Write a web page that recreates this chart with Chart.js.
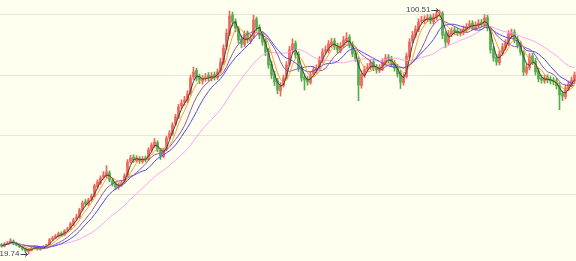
<!DOCTYPE html>
<html>
<head>
<meta charset="utf-8">
<script src="https://cdn.jsdelivr.net/npm/chart.js@4.4.1/dist/chart.umd.min.js"></script>
<style>
  html, body { margin: 0; padding: 0; background: #fffff0; }
  #wrap { width: 576px; height: 261px; position: relative; }
</style>
</head>
<body>
<div id="wrap"><canvas id="kChart"></canvas></div>
<script>
// daily K-line, values
const opens = [
  22.8, 22.4, 23.0, 23.3, 24.0, 23.2, 22.6, 22.0, 21.5, 20.6, 21.0, 21.8, 22.2, 21.3, 21.8,
  22.0, 22.8, 24.6, 25.1, 25.6, 26.6, 26.1, 27.6, 28.2, 29.5, 31.4, 32.0, 34.5, 37.0, 36.2, 37.8, 39.0, 42.0, 43.3,
  45.2, 45.5, 46.6, 44.0, 43.0, 41.8, 42.8, 43.4, 45.8, 50.4, 51.8, 50.6, 51.4, 50.3, 51.6,
  51.0, 54.0, 55.5, 56.6, 54.0, 52.0, 54.5, 58.3, 59.6, 62.8, 65.0, 68.8, 70.0, 70.5,
  72.9, 78.4, 80.5, 78.4, 77.0, 77.8, 78.9, 77.8, 79.1, 78.1, 80.2, 83.1, 88.3, 92.6,
  98.9, 96.8, 94.2, 90.9, 89.0, 92.9, 90.3, 91.5, 97.5, 94.8, 92.5, 90.1, 86.9, 82.6, 79.3, 77.0,
  73.8, 75.6, 78.2, 82.5, 87.0, 89.5, 85.9, 81.0, 78.4, 77.6, 76.5, 79.3, 80.4,
  81.6, 83.8, 86.9, 87.0, 89.0, 90.3, 88.6, 87.0, 88.8, 90.3, 91.5, 89.2, 86.3,
  84.2, 75.5, 79.0, 80.9, 81.4, 83.3, 81.6, 80.5, 81.0, 83.0, 84.9, 84.3, 82.9, 81.6, 79.6,
  76.4, 78.5, 85.0, 90.2, 92.0, 94.0, 96.8, 97.0, 97.6, 98.2, 96.6, 98.0, 99.4,
  99.5, 92.5, 89.6, 92.4, 93.9, 93.5, 92.6, 93.0, 94.0, 95.1, 96.2, 94.6, 95.2, 96.5, 95.7,
  98.0, 94.3, 87.6, 84.9, 83.0, 86.2, 88.0, 89.4, 92.2, 93.2, 90.9, 89.2, 86.3, 79.8, 81.4,
  85.3, 83.6, 80.3, 78.0, 77.0, 78.3, 77.6, 77.3, 77.0, 75.7, 72.8, 71.8, 74.5, 75.8, 77.0
];
const highs = [
  23.2, 23.5, 23.9, 24.8, 24.4, 23.6, 22.9, 22.3, 21.8, 21.5, 22.1, 22.6, 22.5, 22.0, 22.5,
  23.0, 24.9, 25.6, 26.2, 27.0, 27.1, 27.8, 28.6, 30.2, 31.6, 32.9, 34.9, 37.3, 37.8, 38.2, 39.6, 42.9, 44.3, 45.6,
  47.0, 49.0, 47.3, 44.8, 43.6, 43.3, 44.0, 46.3, 51.0, 52.4, 52.6, 52.3, 52.0, 52.0, 52.2,
  54.9, 56.5, 58.0, 57.2, 54.6, 54.8, 58.8, 60.6, 63.2, 66.0, 69.3, 70.8, 71.9, 73.8,
  79.0, 81.6, 81.2, 79.3, 78.8, 79.5, 79.8, 79.8, 80.0, 81.0, 84.5, 89.0, 94.2, 100.2,
  99.8, 97.6, 95.0, 92.0, 93.6, 93.6, 92.5, 98.8, 98.2, 95.6, 93.4, 91.0, 87.8, 83.5, 80.3, 77.9,
  76.5, 79.0, 83.4, 88.5, 91.0, 90.3, 86.7, 81.9, 79.4, 78.5, 79.9, 81.8, 82.4,
  85.1, 87.7, 88.6, 90.4, 91.2, 91.1, 89.5, 89.7, 91.8, 93.0, 92.3, 90.0, 87.2,
  85.0, 80.4, 81.9, 82.8, 84.1, 84.2, 82.5, 82.4, 84.4, 85.8, 85.8, 85.2, 83.8, 82.5, 80.5,
  79.4, 86.3, 91.0, 93.4, 95.3, 97.6, 98.4, 98.6, 99.0, 99.0, 99.3, 100.1, 100.51,
  100.0, 93.3, 93.7, 94.6, 94.8, 94.4, 94.2, 95.2, 96.0, 97.0, 97.0, 96.6, 97.3, 97.4, 99.0,
  98.8, 95.0, 88.5, 85.8, 87.1, 89.4, 90.7, 93.7, 94.2, 94.0, 91.8, 90.0, 87.0, 82.7, 86.1,
  86.2, 84.5, 81.2, 79.0, 79.0, 79.1, 78.5, 78.2, 77.9, 76.5, 73.7, 75.7, 77.0, 78.3, 80.0
];
const lows = [
  22.0, 22.1, 22.8, 23.1, 22.8, 22.4, 21.8, 21.0, 20.3, 19.74, 20.7, 21.5, 21.0, 21.0, 21.5,
  21.8, 22.6, 24.2, 24.8, 25.3, 25.5, 25.8, 27.1, 27.9, 29.1, 30.8, 31.6, 34.0, 35.6, 35.8, 37.2, 38.6, 41.5, 42.8,
  44.5, 45.0, 43.6, 42.2, 41.0, 41.2, 42.1, 43.0, 45.3, 49.8, 50.0, 50.1, 49.7, 49.8, 50.2,
  50.7, 53.5, 55.0, 53.6, 51.0, 51.6, 54.0, 57.6, 59.0, 62.2, 64.5, 67.9, 69.0, 69.8,
  72.3, 77.5, 77.0, 76.1, 76.0, 76.9, 77.0, 77.0, 77.3, 77.5, 79.6, 82.5, 87.5, 92.0,
  95.2, 93.3, 89.5, 88.0, 88.4, 89.6, 89.4, 91.0, 93.5, 91.0, 88.8, 85.4, 81.2, 77.8, 75.5, 72.8,
  72.0, 75.0, 77.6, 82.0, 86.3, 84.6, 80.2, 76.9, 74.0, 75.6, 75.9, 78.6, 79.6,
  80.9, 83.1, 85.9, 86.3, 88.1, 87.4, 86.2, 86.3, 88.1, 89.6, 88.0, 85.0, 83.5,
  70.5, 74.6, 78.2, 80.0, 80.7, 80.4, 79.6, 79.8, 80.4, 82.3, 83.0, 81.7, 80.3, 78.3, 74.5,
  75.6, 78.0, 84.4, 89.5, 91.3, 93.3, 95.8, 96.0, 96.6, 95.9, 95.8, 97.2, 98.4,
  91.0, 88.0, 89.0, 91.7, 92.3, 92.0, 91.9, 92.3, 93.2, 94.4, 94.0, 93.8, 94.5, 95.0, 95.0,
  93.6, 86.2, 83.5, 82.2, 82.3, 85.5, 87.3, 88.7, 91.3, 89.6, 87.9, 85.6, 78.8, 79.0, 80.7,
  82.4, 79.0, 76.7, 76.3, 76.2, 76.4, 76.0, 75.7, 74.3, 67.5, 70.5, 71.1, 73.8, 75.1, 76.3
];
const closes = [
  22.4, 23.1, 23.4, 24.1, 23.1, 22.7, 22.1, 21.4, 20.7, 21.1, 21.7, 22.1, 21.4, 21.7, 22.1,
  22.7, 24.4, 25.0, 25.7, 26.4, 26.0, 27.4, 28.0, 29.7, 31.0, 32.0, 34.3, 36.6, 36.3, 37.6, 38.9, 42.3, 43.6, 44.9,
  45.9, 46.9, 44.2, 42.9, 41.9, 42.6, 43.2, 45.6, 50.2, 51.5, 50.9, 51.5, 50.5, 51.2, 50.9,
  54.2, 55.8, 56.8, 54.2, 52.2, 54.2, 58.1, 59.8, 62.4, 65.1, 68.4, 69.7, 70.7, 72.7,
  78.0, 80.0, 78.0, 77.3, 77.7, 78.3, 78.0, 78.7, 78.3, 80.0, 83.3, 87.9, 92.9, 98.5,
  96.5, 94.6, 90.6, 89.3, 92.6, 90.6, 91.2, 97.2, 94.6, 92.2, 89.9, 86.6, 82.3, 79.0, 76.7, 74.0,
  75.4, 78.0, 82.3, 87.3, 89.3, 85.6, 81.3, 78.0, 77.3, 76.7, 79.0, 80.7, 81.3,
  84.0, 86.6, 87.3, 89.3, 89.9, 88.3, 87.3, 88.6, 90.6, 91.2, 88.9, 86.0, 84.6,
  75.7, 79.3, 80.7, 81.6, 83.0, 81.3, 80.7, 81.3, 83.3, 84.6, 84.0, 82.6, 81.3, 79.3, 76.7,
  78.3, 85.3, 89.9, 92.2, 94.2, 96.5, 97.2, 97.5, 97.9, 96.9, 98.2, 99.2, 99.8,
  92.2, 89.9, 92.6, 93.6, 93.2, 92.9, 93.2, 94.2, 94.9, 95.9, 94.9, 95.5, 96.2, 95.9, 97.9,
  94.6, 87.3, 84.6, 83.3, 86.0, 88.3, 89.6, 92.6, 92.9, 90.6, 88.9, 86.6, 80.0, 81.6, 85.0,
  83.3, 80.0, 77.7, 77.3, 78.0, 77.3, 77.0, 76.7, 75.4, 72.4, 72.0, 74.7, 76.0, 77.3, 79.0
];
const days = closes.map((c, i) => 'D' + (i + 1));

// moving average periods (in candles) and their colours
const maPeriods = [3, 5, 9, 13, 27];
const maColors = ['#404040', '#f7a035', '#9055a8', '#4a4af0', '#ffa0f4'];

// horizontal guide lines of the price pane
const gridTicks = [39.3, 59.0, 78.7, 98.9];
const yMin = 17.42, yMax = 103.82;

const upColor = '#f3645a';
const downColor = '#55ad4f';

function movingAvg(arr, n) {
  const out = [];
  for (let i = 0; i < arr.length; i++) {
    const from = Math.max(0, i - n + 1);
    let s = 0;
    for (let j = from; j <= i; j++) s += arr[j];
    out.push(s / (i - from + 1));
  }
  return out;
}

const candleColors = closes.map((c, i) => c >= opens[i] ? upColor : downColor);

const datasets = [];
maPeriods.forEach((n, k) => {
  datasets.push({
    type: 'line',
    data: movingAvg(closes, n),
    borderColor: maColors[k],
    borderWidth: 1,
    pointRadius: 0,
    tension: 0,
    order: 0
  });
});
datasets.push({
  type: 'bar',
  data: lows.map((l, i) => [l, highs[i]]),
  backgroundColor: candleColors,
  barThickness: 1,
  grouped: false,
  order: 2
});
datasets.push({
  type: 'bar',
  data: opens.map((o, i) => [o, closes[i]]),
  backgroundColor: candleColors,
  barThickness: 2,
  minBarLength: 1,
  grouped: false,
  order: 1
});

// marks the highest high and the lowest low with their price
const extremeLabels = {
  id: 'extremeLabels',
  afterDatasetsDraw(chart) {
    const ctx = chart.ctx;
    const xs = chart.scales.x, ys = chart.scales.y;
    let hi = 0, lo = 0;
    highs.forEach((h, i) => { if (h > highs[hi]) hi = i; });
    lows.forEach((l, i) => { if (l < lows[lo]) lo = i; });
    ctx.save();
    ctx.font = '8px "Liberation Sans"';
    ctx.fillStyle = '#3b4756';
    ctx.strokeStyle = '#3b4756';
    ctx.lineWidth = 1;
    ctx.textBaseline = 'middle';
    const drawMark = (i, v) => {
      const px = xs.getPixelForValue(i);
      const py = ys.getPixelForValue(v);
      const txt = v.toFixed(2);
      const w = ctx.measureText(txt).width;
      const ty = Math.min(Math.max(py, 6), chart.height - 5);
      const tx = px - 8 - w - 1;
      ctx.textAlign = 'left';
      ctx.fillText(txt, tx, ty);
      ctx.beginPath();
      ctx.moveTo(px - 8, ty + 0.5);
      ctx.lineTo(px - 1, ty + 0.5);
      ctx.moveTo(px - 3.5, ty - 1.5);
      ctx.lineTo(px - 1, ty + 0.5);
      ctx.lineTo(px - 3.5, ty + 2.5);
      ctx.stroke();
    };
    drawMark(hi, highs[hi]);
    drawMark(lo, lows[lo]);
    ctx.restore();
  }
};

const bgPlugin = {
  id: 'bg',
  beforeDraw(chart) {
    const ctx = chart.ctx;
    ctx.save();
    ctx.fillStyle = '#fffff0';
    ctx.fillRect(0, 0, chart.width, chart.height);
    ctx.restore();
  }
};

new Chart(document.getElementById('kChart'), {
  data: { labels: days, datasets: datasets },
  options: {
    responsive: true,
    maintainAspectRatio: false,
    animation: false,
    layout: { padding: 0 },
    plugins: { legend: { display: false }, tooltip: { enabled: false } },
    scales: {
      x: { display: false, offset: true },
      y: {
        min: yMin,
        max: yMax,
        afterBuildTicks: (s) => { s.ticks = gridTicks.map(v => ({ value: v })); },
        afterFit: (s) => { s.width = 0; },
        ticks: { display: false },
        border: { display: false },
        grid: { color: '#e6e6d8', lineWidth: 1, drawTicks: false }
      }
    }
  },
  plugins: [bgPlugin, extremeLabels]
});
</script>
</body>
</html>
